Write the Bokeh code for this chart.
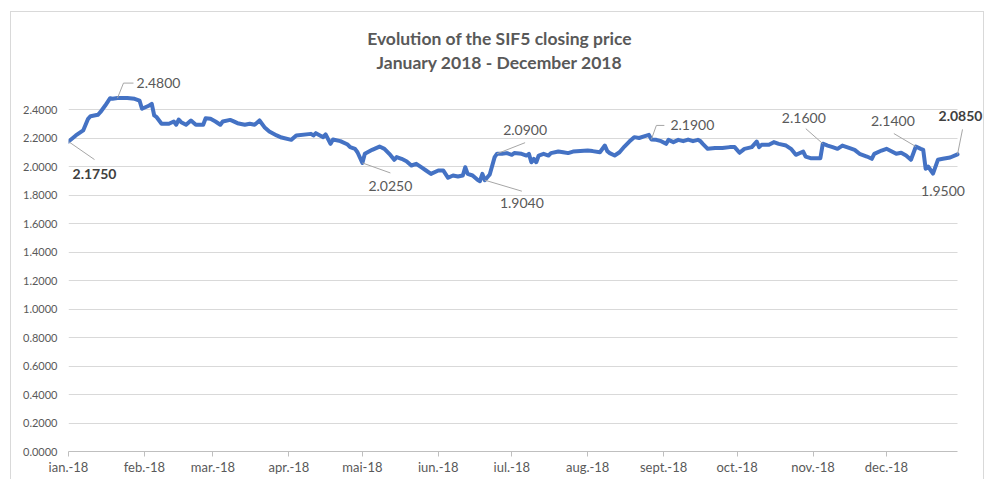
import pandas as pd
from bokeh.plotting import figure
from bokeh.models import (ColumnDataSource, Range1d, FixedTicker, NumeralTickFormatter, Label)
from bokeh.embed import file_html
from bokeh.resources import INLINE

# ---------------- data ----------------
dates = [
    "2018-01-01", "2018-01-04", "2018-01-07", "2018-01-09", "2018-01-10", "2018-01-13", "2018-01-14",
    "2018-01-16", "2018-01-18", "2018-01-19", "2018-01-21", "2018-01-25", "2018-01-28", "2018-01-30",
    "2018-01-31", "2018-02-03", "2018-02-04", "2018-02-05", "2018-02-06", "2018-02-08", "2018-02-11",
    "2018-02-13", "2018-02-14", "2018-02-15", "2018-02-16", "2018-02-18", "2018-02-20", "2018-02-22",
    "2018-02-25", "2018-02-26", "2018-02-28", "2018-03-02", "2018-03-04", "2018-03-05", "2018-03-08",
    "2018-03-09", "2018-03-11", "2018-03-14", "2018-03-16", "2018-03-18", "2018-03-20", "2018-03-22",
    "2018-03-24", "2018-03-27", "2018-03-29", "2018-04-02", "2018-04-04", "2018-04-10", "2018-04-11",
    "2018-04-12", "2018-04-15", "2018-04-16", "2018-04-18", "2018-04-19", "2018-04-22", "2018-04-25",
    "2018-04-26", "2018-04-28", "2018-04-29", "2018-05-01", "2018-05-02", "2018-05-05", "2018-05-08",
    "2018-05-10", "2018-05-12", "2018-05-14", "2018-05-15", "2018-05-17", "2018-05-19", "2018-05-21",
    "2018-05-23", "2018-05-25", "2018-05-27", "2018-05-29", "2018-06-01", "2018-06-03", "2018-06-05",
    "2018-06-07", "2018-06-09", "2018-06-11", "2018-06-12", "2018-06-13", "2018-06-15", "2018-06-17",
    "2018-06-18", "2018-06-19", "2018-06-20", "2018-06-22", "2018-06-24", "2018-06-25", "2018-06-27",
    "2018-06-29", "2018-07-01", "2018-07-02", "2018-07-05", "2018-07-07", "2018-07-08", "2018-07-09",
    "2018-07-10", "2018-07-11", "2018-07-12", "2018-07-14", "2018-07-16", "2018-07-17", "2018-07-20",
    "2018-07-22", "2018-07-24", "2018-07-26", "2018-07-29", "2018-08-01", "2018-08-03", "2018-08-06",
    "2018-08-08", "2018-08-09", "2018-08-10", "2018-08-12", "2018-08-14", "2018-08-16", "2018-08-18",
    "2018-08-20", "2018-08-22", "2018-08-24", "2018-08-26", "2018-08-27", "2018-08-29", "2018-08-31",
    "2018-09-02", "2018-09-03", "2018-09-05", "2018-09-07", "2018-09-09", "2018-09-11", "2018-09-13",
    "2018-09-15", "2018-09-16", "2018-09-17", "2018-09-19", "2018-09-22", "2018-09-25", "2018-09-28",
    "2018-09-30", "2018-10-02", "2018-10-04", "2018-10-07", "2018-10-09", "2018-10-10", "2018-10-11",
    "2018-10-14", "2018-10-16", "2018-10-18", "2018-10-21", "2018-10-23", "2018-10-25", "2018-10-28",
    "2018-10-29", "2018-10-31", "2018-11-04", "2018-11-05", "2018-11-07", "2018-11-09", "2018-11-11",
    "2018-11-13", "2018-11-16", "2018-11-18", "2018-11-20", "2018-11-23", "2018-11-25", "2018-11-26",
    "2018-11-29", "2018-12-01", "2018-12-03", "2018-12-05", "2018-12-07", "2018-12-09", "2018-12-11",
    "2018-12-13", "2018-12-15", "2018-12-16", "2018-12-17", "2018-12-18", "2018-12-20", "2018-12-22",
    "2018-12-24", "2018-12-27", "2018-12-30",
]
prices = [
    2.175, 2.218, 2.253, 2.335, 2.353, 2.363, 2.381,
    2.428, 2.479, 2.475, 2.480, 2.480, 2.475, 2.463,
    2.405, 2.428, 2.440, 2.358, 2.346, 2.300, 2.300,
    2.316, 2.293, 2.330, 2.311, 2.293, 2.323, 2.293,
    2.293, 2.339, 2.335, 2.316, 2.293, 2.316, 2.327,
    2.320, 2.304, 2.293, 2.300, 2.293, 2.323, 2.276,
    2.246, 2.218, 2.203, 2.187, 2.218, 2.229, 2.218,
    2.234, 2.206, 2.225, 2.159, 2.189, 2.178, 2.154,
    2.136, 2.124, 2.100, 2.025, 2.089, 2.117, 2.140,
    2.124, 2.089, 2.047, 2.066, 2.054, 2.037, 2.007,
    2.019, 1.995, 1.972, 1.948, 1.972, 1.972, 1.921,
    1.937, 1.930, 1.937, 1.995, 1.948, 1.937, 1.907,
    1.897, 1.948, 1.904, 1.944, 2.066, 2.090, 2.089,
    2.094, 2.082, 2.094, 2.089, 2.077, 2.089, 2.030,
    2.054, 2.030, 2.077, 2.089, 2.077, 2.094, 2.105,
    2.100, 2.094, 2.105, 2.108, 2.112, 2.108, 2.100,
    2.147, 2.108, 2.094, 2.077, 2.100, 2.140, 2.175,
    2.206, 2.200, 2.211, 2.222, 2.190, 2.187, 2.178,
    2.159, 2.187, 2.171, 2.187, 2.178, 2.189, 2.178,
    2.187, 2.178, 2.159, 2.124, 2.130, 2.130, 2.136,
    2.136, 2.096, 2.124, 2.136, 2.175, 2.136, 2.152,
    2.152, 2.171, 2.159, 2.147, 2.124, 2.082, 2.105,
    2.070, 2.058, 2.058, 2.160, 2.147, 2.136, 2.124,
    2.147, 2.129, 2.117, 2.089, 2.070, 2.054, 2.089,
    2.112, 2.124, 2.107, 2.089, 2.096, 2.077, 2.047,
    2.140, 2.124, 2.117, 1.984, 2.000, 1.950, 2.047,
    2.054, 2.063, 2.085,
]

month_ticks = ["2018-01-01", "2018-02-01", "2018-03-01", "2018-04-01", "2018-05-01", "2018-06-01",
               "2018-07-01", "2018-08-01", "2018-09-01", "2018-10-01", "2018-11-01", "2018-12-01"]
month_labels = ["ian.-18", "feb.-18", "mar.-18", "apr.-18", "mai-18", "iun.-18",
                "iul.-18", "aug.-18", "sept.-18", "oct.-18", "nov.-18", "dec.-18"]
y_ticks = [0.0, 0.2, 0.4, 0.6, 0.8, 1.0, 1.2, 1.4, 1.6, 1.8, 2.0, 2.2, 2.4]

# annotated points (dates whose price is labelled)
label_dates = ["2018-01-01", "2018-01-21", "2018-05-01", "2018-06-20", "2018-06-25",
               "2018-08-27", "2018-11-05", "2018-12-13", "2018-12-20", "2018-12-30"]
label_bold = [True, False, False, False, False, False, False, False, False, True]

title_lines = ["Evolution of the SIF5 closing price", "January 2018 - December 2018"]

# ---------------- layout / styles ----------------
W, H = 990, 479
B_LEFT, B_RIGHT, B_TOP, B_BOTTOM = 68, 2, 0, 28
AXIS_W = 889              # pixel length of the drawn date axis
PX_PER_UNIT = 142.5       # vertical pixels per 1.0 of price
FRAME_W = W - B_LEFT - B_RIGHT
FRAME_H = H - B_TOP - B_BOTTOM
Y_MAX = FRAME_H / PX_PER_UNIT
X_START = pd.Timestamp("2018-01-01")
X_AXIS_END = pd.Timestamp("2018-12-30")
ms_per_px = (X_AXIS_END - X_START).total_seconds() * 1000.0 / AXIS_W
X_RANGE_END = X_START.value / 1e6 + FRAME_W * ms_per_px
val_per_px = 1.0 / PX_PER_UNIT

# title placement (px from the axis origin: right of the y axis, above the zero line)
TITLE_X_PX = 431
TITLE_Y_PX = [413, 389]

# label text offsets (screen px, y up) and leader-line paths (px, relative to point)
label_dx = [26, 41, 28, 37, 28, 41, -19, -23, 10, 3]
label_dy = [-32, 15, -23, -23, 24, 14, 26, 26, -17, 38]
leader_paths = [
    [(0, 0), (26, -18)],
    [(0, 0), (6, 15), (16, 15)],
    [(0, 0), (28, -10)],
    [(0, 0), (37, -11)],
    [(0, 0), (28, 11)],
    [(0, 0), (5, 14), (13, 14)],
    [(0, 0), (-17, 15)],
    [(0, 0), (-22, 13)],
    [],
    [(0, 0), (5, 25)],
]

LINE_COLOR = "#4472C4"
TEXT_GRAY = "#595959"
LABEL_GRAY = "#404040"
GRID = "#d9d9d9"
FONT = "Lato"

border_css = ("linear-gradient(#d9d9d9,#d9d9d9) 10px 11px / 1px 100% no-repeat, "
              "linear-gradient(#d9d9d9,#d9d9d9) 10px 11px / 974px 1px no-repeat, "
              "linear-gradient(#d9d9d9,#d9d9d9) 983px 11px / 1px 100% no-repeat")

x_dt = pd.to_datetime(dates)
src = ColumnDataSource(dict(x=x_dt, y=prices))
x0_ms = X_START.value / 1e6

p = figure(width=W, height=H, x_axis_type="datetime",
           x_range=Range1d(x0_ms, X_RANGE_END), y_range=Range1d(0, Y_MAX),
           output_backend="svg", toolbar_location=None,
           min_border_left=B_LEFT, min_border_right=B_RIGHT,
           min_border_top=B_TOP, min_border_bottom=B_BOTTOM,
           background_fill_color=None, border_fill_color=None,
           styles={"background": border_css})
p.outline_line_color = None

axis_bounds = (x0_ms, X_AXIS_END.value / 1e6)

# grid
p.xgrid.visible = False
p.ygrid.grid_line_color = GRID
p.ygrid.grid_line_width = 1
p.ygrid.cross_bounds = axis_bounds

# y axis
p.yaxis.ticker = FixedTicker(ticks=y_ticks)
p.yaxis.formatter = NumeralTickFormatter(format="0.0000")
p.yaxis.axis_line_color = None
p.yaxis.major_tick_line_color = None
p.yaxis.minor_tick_line_color = None
p.yaxis.major_tick_out = 0
p.yaxis.major_tick_in = 0
p.yaxis.major_label_standoff = 11
p.yaxis.major_label_text_font = FONT
p.yaxis.major_label_text_font_size = "11px"
p.yaxis.major_label_text_color = TEXT_GRAY

# x axis
tick_ms = [float(pd.Timestamp(d).value // 10**6) for d in month_ticks]
p.xaxis.ticker = FixedTicker(ticks=tick_ms)
p.xaxis.bounds = axis_bounds
p.xaxis.major_label_overrides = {t: lab for t, lab in zip(tick_ms, month_labels)}
p.xaxis.axis_line_color = "#bfbfbf"
p.xaxis.major_tick_line_color = "#bfbfbf"
p.xaxis.minor_tick_line_color = None
p.xaxis.major_tick_out = 5
p.xaxis.major_tick_in = 0
p.xaxis.major_label_standoff = 2
p.xaxis.major_label_text_font = FONT
p.xaxis.major_label_text_font_size = "13px"
p.xaxis.major_label_text_color = TEXT_GRAY

# titles
for txt, ypx in zip(title_lines, TITLE_Y_PX):
    p.add_layout(Label(x=x0_ms + TITLE_X_PX * ms_per_px, y=ypx * val_per_px, text=txt,
                       text_align="center", text_baseline="middle", text_font=FONT,
                       text_font_size="17.5px", text_font_style="bold", text_color=TEXT_GRAY))

# price line
p.line("x", "y", source=src, line_color=LINE_COLOR, line_width=4, line_join="round", line_cap="round")

# data labels with leader lines
price_of = dict(zip(dates, prices))
lab_y = [price_of[d] for d in label_dates]

xs, ys = [], []
for d, v, path in zip(label_dates, lab_y, leader_paths):
    if not path:
        continue
    t0 = pd.Timestamp(d).value / 1e6
    xs.append([t0 + px * ms_per_px for px, _ in path])
    ys.append([v + py * val_per_px for _, py in path])
p.multi_line(xs, ys, line_color="#a6a6a6", line_width=1)

for d, v, dx, dy, b in zip(label_dates, lab_y, label_dx, label_dy, label_bold):
    p.add_layout(Label(x=pd.Timestamp(d).value / 1e6, y=v, text=f"{v:.4f}",
                       x_offset=dx, y_offset=dy, text_align="center", text_baseline="middle",
                       text_font=FONT, text_font_size="14px",
                       text_font_style="bold" if b else "normal",
                       text_color=LABEL_GRAY if b else TEXT_GRAY))

open("out.html", "w").write(file_html(p, INLINE))
